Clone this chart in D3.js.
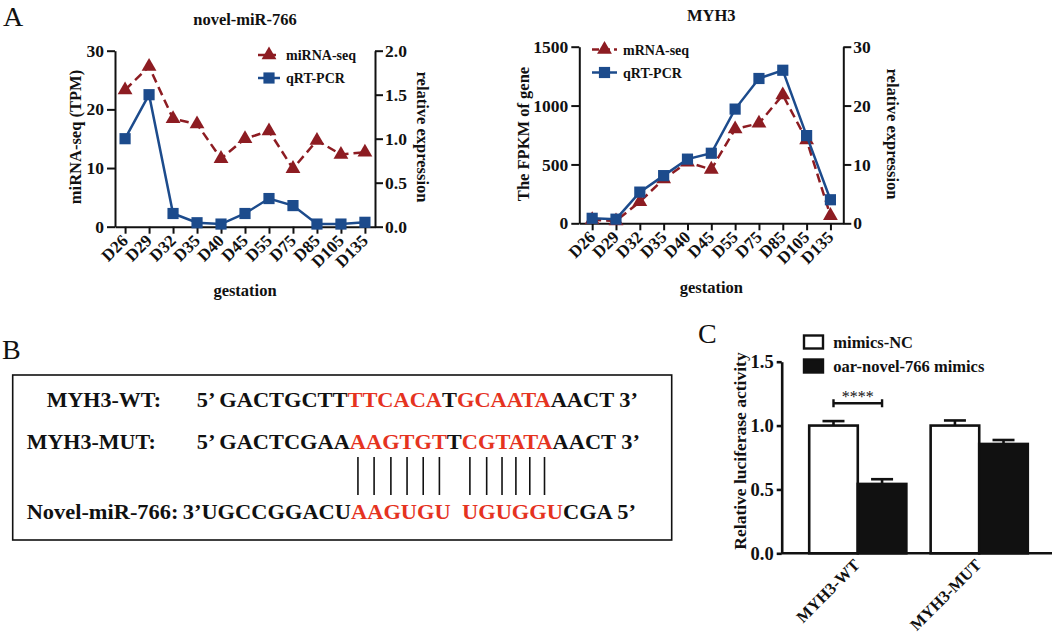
<!DOCTYPE html>
<html>
<head>
<meta charset="utf-8">
<script src="https://cdn.jsdelivr.net/npm/d3@7"></script>
<style>
body { margin: 0; background: #fff; }
svg text { font-family: "Liberation Serif", "Times New Roman", serif; }
</style>
</head>
<body>
<svg id="fig" width="1052" height="636"></svg>
<script>
// gestation days (panel A)
var days = ["D26", "D29", "D32", "D35", "D40", "D45", "D55", "D75", "D85", "D105", "D135"];
// novel-miR-766
var mirSeq = [23.3, 27.3, 18.4, 17.5, 11.6, 15.0, 16.3, 9.9, 14.7, 12.3, 12.7];
var mirQpcr = [1.0, 1.5, 0.15, 0.045, 0.03, 0.15, 0.32, 0.24, 0.03, 0.03, 0.05];
// MYH3
var myhSeq = [30, 20, 183, 376, 518, 458, 801, 849, 1090, 707, 65];
var myhQpcr = [0.85, 0.7, 5.3, 8.1, 10.9, 11.9, 19.4, 24.6, 26.0, 14.9, 4.0];

var mirLeftTicks = [0, 10, 20, 30], mirRightTicks = [0, 0.5, 1, 1.5, 2];
var myhLeftTicks = [0, 500, 1000, 1500], myhRightTicks = [0, 10, 20, 30];

// panel B sequences, 1 = red (seed pairing)
var wtParts = [["5’ GACTGCTT", 0], ["TTCACA", 1], ["T", 0], ["GCAATA", 1], ["AACT 3’", 0]];
var mutParts = [["5’ GACTCGAA", 0], ["AAGTGT", 1], ["T", 0], ["CGTATA", 1], ["AACT 3’", 0]];
var mirParts = [["3’UGCCGGACU", 0], ["AAGUGU", 1], ["  ", 0], ["UGUGGU", 1], ["CGA 5’", 0]];

// panel C luciferase
var lucGroups = ["MYH3-WT", "MYH3-MUT"];
var lucSeries = ["mimics-NC", "oar-novel-766 mimics"];
var lucMean = [[1.0, 0.543], [1.0, 0.856]];
var lucErr = [[0.035, 0.037], [0.04, 0.031]];
var lucTicks = [0, 0.5, 1.0, 1.5];

var red = "#8d1c22", blue = "#1c4b8c", seqRed = "#e5331f", ink = "#111";
var svg = d3.select("#fig");

function styleAxis(g, size, width) {
  g.attr("font-family", null).attr("font-size", size).attr("font-weight", "bold");
  g.selectAll("path, line").attr("stroke", ink).attr("stroke-width", width || 2);
  g.selectAll("text").attr("fill", ink);
}

function boldText(g, x, y, size, txt, anchor) {
  return g.append("text").attr("x", x).attr("y", y)
    .attr("font-size", size).attr("font-weight", "bold").attr("fill", ink)
    .attr("text-anchor", anchor || "start").text(txt);
}

function drawExpression(p) {
  var g = svg.append("g");
  var x = d3.scalePoint().domain(days).range([p.left, p.right]).padding(p.pad);
  var yL = d3.scaleLinear().domain([0, p.leftTicks[p.leftTicks.length - 1]]).range([p.bottom, p.top]);
  var yR = d3.scaleLinear().domain([0, p.rightTicks[p.rightTicks.length - 1]]).range([p.bottom, p.top]);

  var xa = g.append("g").attr("transform", "translate(0," + p.bottom + ")")
    .call(d3.axisBottom(x).tickSize(7).tickSizeOuter(0).tickFormat(""));
  styleAxis(xa, 17);
  g.selectAll(".xl").data(days).join("text")
    .attr("transform", function(d) { return "translate(" + (x(d) + 4) + "," + (p.bottom + 15) + ") rotate(-45)"; })
    .attr("text-anchor", "end").attr("font-size", 17).attr("font-weight", "bold").attr("fill", ink)
    .text(function(d) { return d; });

  var la = g.append("g").attr("transform", "translate(" + p.left + ",0)")
    .call(d3.axisLeft(yL).tickValues(p.leftTicks).tickFormat(d3.format("d")).tickSize(8).tickPadding(3).tickSizeOuter(0));
  styleAxis(la, 17.5);
  var ra = g.append("g").attr("transform", "translate(" + p.right + ",0)")
    .call(d3.axisRight(yR).tickValues(p.rightTicks).tickFormat(p.rightFmt).tickSize(8).tickPadding(2).tickSizeOuter(0));
  styleAxis(ra, 17.5);

  boldText(g, (p.left + p.right) / 2, p.titleY, 16.5, p.title, "middle");
  boldText(g, (p.left + p.right) / 2, p.gestY, 16.5, "gestation", "middle");
  boldText(g, 0, 0, 16.5, p.leftLabel, "middle").attr("dy", "0.35em")
    .attr("transform", "translate(" + p.leftLabelX + "," + p.labelY + ") rotate(-90)");
  boldText(g, 0, 0, 16.5, "relative expression", "middle").attr("dy", "0.35em")
    .attr("transform", "translate(" + p.rightLabelX + "," + p.labelY + ") rotate(90)");

  var lineL = d3.line().x(function(d, i) { return x(days[i]); }).y(function(d) { return yL(d); });
  var lineR = d3.line().x(function(d, i) { return x(days[i]); }).y(function(d) { return yR(d); });
  var tri = d3.symbol().type(d3.symbolTriangle).size(95);
  var sq = d3.symbol().type(d3.symbolSquare).size(125);

  g.append("path").attr("d", lineL(p.seq)).attr("fill", "none").attr("stroke", red)
    .attr("stroke-width", 2.5).attr("stroke-dasharray", "9,5");
  g.selectAll(".tri").data(p.seq).join("path")
    .attr("d", tri).attr("fill", red)
    .attr("transform", function(d, i) { return "translate(" + x(days[i]) + "," + yL(d) + ")"; });
  g.append("path").attr("d", lineR(p.qpcr)).attr("fill", "none").attr("stroke", blue).attr("stroke-width", 2.5);
  g.selectAll(".sq").data(p.qpcr).join("path")
    .attr("d", sq).attr("fill", blue)
    .attr("transform", function(d, i) { return "translate(" + x(days[i]) + "," + yR(d) + ")"; });

  // legend
  var lx = p.legX, lw = p.legW;
  var rows = [[p.seqName, red, "9,5", tri, p.legY], ["qRT-PCR", blue, null, sq, p.legY + 23]];
  rows.forEach(function(r) {
    g.append("line").attr("x1", lx).attr("x2", lx + lw).attr("y1", r[4]).attr("y2", r[4])
      .attr("stroke", r[1]).attr("stroke-width", 2.5).attr("stroke-dasharray", r[2] ? "7,4" : null);
    g.append("path").attr("d", r[3]).attr("fill", r[1])
      .attr("transform", "translate(" + (lx + lw / 2) + "," + r[4] + ")");
    boldText(g, lx + lw + 6, r[4] + 5, 14, r[0]);
  });
}

drawExpression({
  left: 115, right: 375, top: 50.7, bottom: 226.7, pad: 0.42,
  leftTicks: mirLeftTicks, rightTicks: mirRightTicks, rightFmt: d3.format(".1f"),
  seq: mirSeq, qpcr: mirQpcr, seqName: "miRNA-seq",
  title: "novel-miR-766", titleY: 25, gestY: 296,
  leftLabel: "miRNA-seq (TPM)", leftLabelX: 75, rightLabelX: 423, labelY: 137,
  legX: 258, legW: 22, legY: 55
});

drawExpression({
  left: 579.3, right: 843.3, top: 46.7, bottom: 223.3, pad: 0.54,
  leftTicks: myhLeftTicks, rightTicks: myhRightTicks, rightFmt: d3.format("d"),
  seq: myhSeq, qpcr: myhQpcr, seqName: "mRNA-seq",
  title: "MYH3", titleY: 21, gestY: 293,
  leftLabel: "The FPKM of gene", leftLabelX: 523, rightLabelX: 892.5, labelY: 134,
  legX: 592, legW: 25, legY: 49.5
});

// panel letters
[["A", 3, 26], ["B", 2, 359], ["C", 698, 343]].forEach(function(l) {
  svg.append("text").attr("x", l[1]).attr("y", l[2]).attr("font-size", 28).attr("fill", ink).text(l[0]);
});

// panel B
var gb = svg.append("g");
gb.append("rect").attr("x", 12.7).attr("y", 375).attr("width", 659).attr("height", 165)
  .attr("fill", "none").attr("stroke", ink).attr("stroke-width", 1.6);

function seqLine(parts, x0, y, targetW) {
  var wrap = gb.append("g");
  var t = wrap.append("text").attr("xml:space", "preserve").style("white-space", "pre")
    .attr("font-size", 22).attr("font-weight", "bold");
  parts.forEach(function(pt) {
    t.append("tspan").attr("fill", pt[1] ? seqRed : ink).text(pt[0]);
  });
  var k = targetW / t.node().getComputedTextLength();
  wrap.attr("transform", "translate(" + x0 + "," + y + ") scale(" + k + ",1)");
  return {node: t.node(), k: k, x0: x0};
}

boldText(gb, 46.7, 407, 22, "MYH3-WT:");
boldText(gb, 26.7, 448.5, 22, "MYH3-MUT:");
boldText(gb, 26.7, 518.5, 22, "Novel-miR-766:").attr("textLength", 151.7).attr("lengthAdjust", "spacingAndGlyphs");
seqLine(wtParts, 196.7, 407, 440);
var mut = seqLine(mutParts, 196.7, 448.5, 443.3);
seqLine(mirParts, 182.7, 518.5, 453.3);

// pairing bars under the red bases of the mutant line
var pairX = [], idx = 0;
mutParts.forEach(function(pt) {
  for (var c = 0; c < pt[0].length; c++) {
    if (pt[1]) {
      var a = mut.node.getStartPositionOfChar(idx).x, b = mut.node.getEndPositionOfChar(idx).x;
      pairX.push(mut.x0 + mut.k * (a + b) / 2);
    }
    idx++;
  }
});
gb.selectAll(".pair").data(pairX).join("line")
  .attr("x1", function(d) { return d; }).attr("x2", function(d) { return d; })
  .attr("y1", 457).attr("y2", 495).attr("stroke", ink).attr("stroke-width", 1.6);

// panel C
var gc = svg.append("g");
var xc = d3.scaleBand().domain(lucGroups).range([782, 1055]).paddingInner(0.2).paddingOuter(0.224);
var xs = d3.scaleBand().domain(lucSeries).range([0, xc.bandwidth()]);
var yc = d3.scaleLinear().domain([0, 1.5]).range([553.3, 361.7]);

lucGroups.forEach(function(grp, i) {
  lucSeries.forEach(function(s, j) {
    var bx = xc(grp) + xs(s), cx = bx + xs.bandwidth() / 2;
    var top = yc(lucMean[i][j]), cap = yc(lucMean[i][j] + lucErr[i][j]);
    gc.append("rect").attr("x", bx).attr("y", top).attr("width", xs.bandwidth())
      .attr("height", yc(0) - top).attr("fill", j ? ink : "#fff")
      .attr("stroke", ink).attr("stroke-width", 2.6);
    gc.append("line").attr("x1", cx).attr("x2", cx).attr("y1", top).attr("y2", cap)
      .attr("stroke", ink).attr("stroke-width", 2.6);
    gc.append("line").attr("x1", cx - 11).attr("x2", cx + 11).attr("y1", cap).attr("y2", cap)
      .attr("stroke", ink).attr("stroke-width", 2.6);
  });
});

var ya = gc.append("g").attr("transform", "translate(781.7,0)")
  .call(d3.axisLeft(yc).tickValues(lucTicks).tickFormat(d3.format(".1f")).tickSize(5).tickPadding(3).tickSizeOuter(0));
styleAxis(ya, 18.5, 2.6);
var xa = gc.append("g").attr("transform", "translate(0,553.3)")
  .call(d3.axisBottom(xc).tickSize(0).tickSizeOuter(0).tickFormat(""));
styleAxis(xa, 16.5, 2.6);
xa.select(".domain").attr("d", "M-0.3,0H271");
xa.attr("transform", "translate(781.7,553.3)");
gc.selectAll(".cl").data(lucGroups).join("text")
  .attr("transform", function(d) { return "translate(" + (xc(d) + xc.bandwidth() / 2 + 3) + ",566) rotate(-45)"; })
  .attr("text-anchor", "end").attr("font-size", 16.5).attr("font-weight", "bold").attr("fill", ink)
  .text(function(d) { return d; });
boldText(gc, 0, 0, 17.5, "Relative luciferase activity", "middle").attr("dy", "0.35em")
  .attr("transform", "translate(740,451) rotate(-90)");

// significance bracket between WT bars
var sx1 = xc("MYH3-WT") + xs(lucSeries[0]) + xs.bandwidth() / 2;
var sx2 = xc("MYH3-WT") + xs(lucSeries[1]) + xs.bandwidth() / 2;
var sy = yc(1.175);
gc.append("path").attr("d", "M" + sx1 + "," + (sy - 4) + "V" + (sy + 4) + "M" + sx1 + "," + sy + "H" + sx2 +
  "M" + sx2 + "," + (sy - 4) + "V" + (sy + 4))
  .attr("fill", "none").attr("stroke", ink).attr("stroke-width", 2.4);
gc.append("text").attr("x", (sx1 + sx2) / 2).attr("y", sy - 1).attr("text-anchor", "middle")
  .attr("font-size", 16).attr("fill", ink).text("****");

// legend C
lucSeries.forEach(function(s, j) {
  var ly = 335.5 + j * 24;
  gc.append("rect").attr("x", 804).attr("y", ly).attr("width", 19).attr("height", 13)
    .attr("fill", j ? ink : "#fff").attr("stroke", ink).attr("stroke-width", 2.4);
  boldText(gc, 833.3, ly + 12, 16.5, s);
});
</script>
</body>
</html>
